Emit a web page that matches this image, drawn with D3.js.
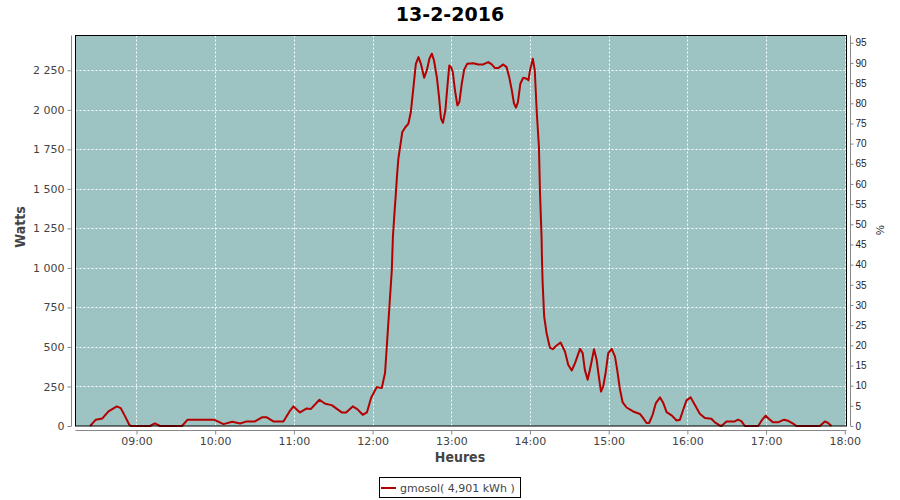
<!DOCTYPE html>
<html><head><meta charset="utf-8">
<script src="https://cdn.jsdelivr.net/npm/d3@7"></script>
<style>
html,body{margin:0;padding:0;background:#fff;}
svg{display:block;}
</style>
</head><body>
<svg id="chart" width="900" height="500"></svg>
<script>
const title = "13-2-2016";
const seriesName = "gmosol( 4,901 kWh )";
const times = ["08:24:40","08:29:00","08:34:00","08:38:40","08:45:00","08:48:00","08:51:20","08:54:40","08:56:00",
"09:10:20","09:14:00","09:18:00","09:34:40","09:39:00","09:59:00","10:06:20","10:13:00","10:19:00","10:24:00",
"10:30:20","10:35:40","10:39:20","10:44:20","10:52:00","10:56:40","10:59:40","11:04:40","11:09:50","11:12:50",
"11:19:30","11:23:50","11:28:50","11:36:30","11:39:50","11:44:50","11:48:20","11:52:30","11:55:40","11:58:50",
"12:03:10","12:07:00","12:09:30","12:12:00","12:14:40","12:15:30","12:16:40","12:17:40","12:18:40","12:19:40",
"12:21:00","12:22:40","12:24:50","12:27:20","12:29:10","12:31:10","12:33:00","12:35:00","12:36:50","12:39:20",
"12:41:20","12:43:20","12:45:10","12:46:50","12:49:00","12:50:40","12:52:10","12:53:40","12:55:30","12:57:00",
"12:58:30","12:59:50","13:01:10","13:02:50","13:04:40","13:06:10","13:08:00","13:09:50","13:12:10","13:16:50",
"13:20:40","13:24:20","13:28:10","13:30:50","13:33:20","13:35:50","13:39:40","13:42:10","13:44:10","13:46:10",
"13:47:50","13:49:20","13:50:50","13:52:40","13:54:50","13:57:30","13:58:50","14:00:00","14:02:10","14:03:40",
"14:05:10","14:06:50","14:07:40","14:08:50","14:09:10","14:09:40","14:10:50","14:12:40","14:15:10","14:17:20",
"14:20:20","14:23:20","14:26:40","14:29:10","14:31:50","14:34:20","14:38:10","14:40:10","14:41:50","14:44:00",
"14:46:30","14:48:50","14:50:50","14:52:40","14:54:10","14:55:50","14:57:50","14:59:40","15:02:20","15:04:50",
"15:06:30","15:08:40","15:10:40","15:13:40","15:18:40","15:23:50","15:26:20","15:28:50","15:30:50","15:33:30",
"15:36:00","15:39:10","15:41:40","15:44:10","15:48:00","15:51:50","15:54:20","15:56:50","15:59:20","16:02:30",
"16:05:40","16:09:30","16:13:20","16:18:20","16:21:00","16:24:20","16:26:00","16:29:50","16:36:10","16:38:40",
"16:41:20","16:43:50","16:54:00","16:56:40","16:59:40","17:02:20","17:05:20","17:09:10","17:13:40","17:16:50",
"17:20:40","17:23:10","17:41:00","17:44:50","17:47:20","17:49:50"];
const watts = [0,40,48,92,124,113,61,5,0,
0,16,0,0,40,40,12,27,16,29,
29,55,55,29,29,92,124,86,111,107,
166,141,132,86,86,124,107,71,86,177,
246,240,335,650,987,1197,1345,1460,1587,1692,
1765,1860,1888,1913,1986,2144,2291,2333,2291,2203,
2249,2323,2355,2312,2207,2081,1944,1917,1997,2144,
2281,2270,2239,2123,2028,2049,2165,2254,2291,2295,
2287,2287,2302,2287,2264,2264,2287,2270,2207,2123,
2039,2014,2049,2165,2203,2197,2186,2249,2323,2249,
1986,1765,1471,1197,1050,903,692,587,496,486,
509,528,471,387,351,398,488,461,355,292,
387,486,419,303,218,250,345,461,488,439,
355,229,149,117,92,76,50,19,19,71,
145,181,145,88,67,35,40,103,162,181,
134,78,50,46,23,5,0,29,29,40,
29,0,0,35,65,44,23,23,40,33,
15,0,0,29,19,0];
const xTickLabels = ["09:00","10:00","11:00","12:00","13:00","14:00","15:00","16:00","17:00","18:00"];
const wattTicks = [0,250,500,750,1000,1250,1500,1750,2000,2250];
const pctTicks = [0,5,10,15,20,25,30,35,40,45,50,55,60,65,70,75,80,85,90,95];

const parse = d3.timeParse("%H:%M:%S");
const parseHM = d3.timeParse("%H:%M");
const data = times.map((t,i)=>({t:parse(t), v:watts[i]}));

const L=75.5, R=846.5, T=35.5, B=426;
const svg = d3.select("#chart");
const x = d3.scaleTime().domain([parse("08:13:30"), parse("18:01:20")]).range([L, R]);
const y = d3.scaleLinear().domain([0, 2470]).range([B, T]);
const y2 = d3.scaleLinear().domain([0, 96.8]).range([B, T]);

const fr = d3.formatLocale({decimal:",", thousands:"\u00a0", grouping:[3], currency:["",""]});
const fmt = fr.format(",d");

// plot background
svg.append("rect").attr("x",L).attr("y",T).attr("width",R-L).attr("height",B-T).attr("fill","#9ec3c3");

// gridlines
const xt = xTickLabels.map(s=>parseHM(s));
svg.append("g").selectAll("line").data(xt).join("line")
  .attr("x1",d=>Math.round(x(d))+0.5).attr("x2",d=>Math.round(x(d))+0.5)
  .attr("y1",T).attr("y2",B)
  .attr("stroke","#fff").attr("stroke-width",1).attr("stroke-dasharray","2,2");
svg.append("g").selectAll("line").data(wattTicks.filter(d=>d>0)).join("line")
  .attr("x1",L).attr("x2",R)
  .attr("y1",d=>Math.round(y(d))+0.5).attr("y2",d=>Math.round(y(d))+0.5)
  .attr("stroke","#fff").attr("stroke-width",1).attr("stroke-dasharray","2,2");

// line
const line = d3.line().x(d=>x(d.t)).y(d=>y(d.v));
svg.append("path").datum(data).attr("d",line).attr("fill","none")
  .attr("stroke","#b40000").attr("stroke-width",2).attr("stroke-linejoin","round");

// border
svg.append("rect").attr("x",L).attr("y",T).attr("width",R-L).attr("height",B-T)
  .attr("fill","none").attr("stroke","#000").attr("stroke-width",1);

// axes
const axisColor = "#888";
const gl = svg.append("g").attr("transform","translate(71.5,0)")
  .call(d3.axisLeft(y).tickValues(wattTicks).tickFormat(fmt).tickSize(4).tickSizeOuter(0));
gl.select(".domain").attr("d",`M0,${T}V${B}`);
gl.selectAll(".tick text").attr("font-family","'DejaVu Sans',sans-serif").attr("font-size",11).attr("fill","#444").attr("x",-7);

const gr = svg.append("g").attr("transform","translate(850.5,0)")
  .call(d3.axisRight(y2).tickValues(pctTicks).tickSize(3).tickSizeOuter(0));
gr.select(".domain").attr("d",`M0,${T}V${B}`);
gr.selectAll(".tick text").attr("font-family","'Liberation Sans',Arial,sans-serif").attr("font-size",10).attr("fill","#222").attr("x",5);

const gb = svg.append("g").attr("transform","translate(0,430.5)")
  .call(d3.axisBottom(x).tickValues(xt).tickFormat(d3.timeFormat("%H:%M")).tickSize(4).tickSizeOuter(0));
gb.select(".domain").attr("d",`M${L},0H${R}`);
gb.selectAll(".tick text").attr("font-family","'DejaVu Sans',sans-serif").attr("font-size",11).attr("fill","#444").attr("y",7);

[gl,gr,gb].forEach(g=>{g.selectAll(".domain").attr("stroke",axisColor); g.selectAll(".tick line").attr("stroke",axisColor);});

// titles
svg.append("text").attr("x",450).attr("y",21).attr("text-anchor","middle")
  .attr("font-family","'DejaVu Sans',sans-serif").attr("font-weight","bold").attr("font-size",19).attr("fill","#000").text(title);
svg.append("text").attr("x",460).attr("y",462).attr("text-anchor","middle")
  .attr("font-family","'DejaVu Sans Condensed','DejaVu Sans',sans-serif").attr("font-weight","bold").attr("font-size",14).attr("fill","#444").text("Heures");
svg.append("text").attr("transform","translate(25,227) rotate(-90)").attr("text-anchor","middle")
  .attr("font-family","'DejaVu Sans Condensed','DejaVu Sans',sans-serif").attr("font-weight","bold").attr("font-size",14).attr("fill","#444").text("Watts");
svg.append("text").attr("transform","translate(884,230) rotate(-90)").attr("text-anchor","middle")
  .attr("font-family","'Liberation Sans',Arial,sans-serif").attr("font-size",11).attr("fill","#222").text("%");

// legend
svg.append("rect").attr("x",379.5).attr("y",477.5).attr("width",141).attr("height",20)
  .attr("fill","#fff").attr("stroke","#000").attr("stroke-width",1);
svg.append("line").attr("x1",381).attr("x2",396).attr("y1",488).attr("y2",488)
  .attr("stroke","#b40000").attr("stroke-width",2);
svg.append("text").attr("x",400).attr("y",492).attr("font-family","'DejaVu Sans',sans-serif")
  .attr("font-size",11).attr("fill","#444").text(seriesName);
</script>
</body></html>
